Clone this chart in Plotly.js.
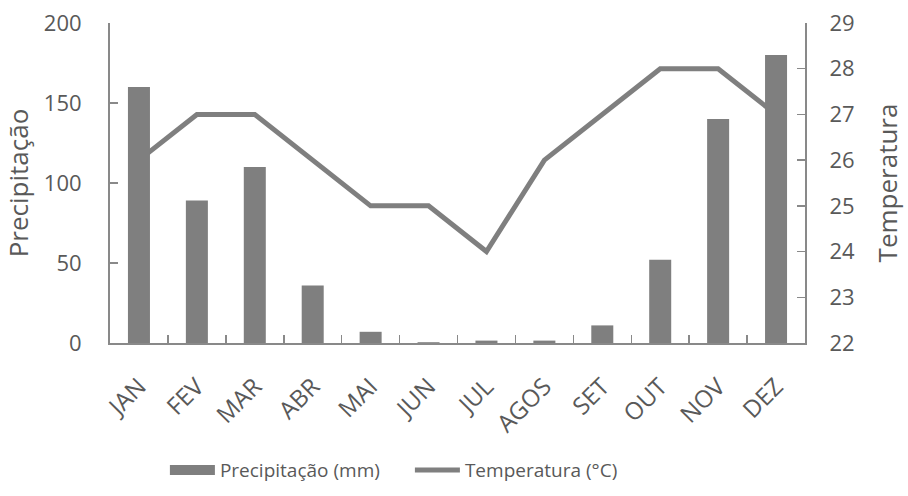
<!DOCTYPE html>
<html>
<head>
<meta charset="utf-8">
<script src="https://cdn.plot.ly/plotly-3.0.1.min.js"></script>
<style>html,body{margin:0;padding:0;background:#fff;}#chart{width:908px;height:496px;}</style>
</head>
<body>
<div id="chart"></div>
<script>
const months = ["JAN","FEV","MAR","ABR","MAI","JUN","JUL","AGOS","SET","OUT","NOV","DEZ"];
const precipitacao = [160, 89, 110, 36, 7, 0.5, 1.5, 1.5, 11, 52, 140, 180];
const temperatura = [26, 27, 27, 26, 25, 25, 24, 26, 27, 28, 28, 27];
const precipTicks = [0, 50, 100, 150, 200];
const tempTicks = [22, 23, 24, 25, 26, 27, 28, 29];

const gray = "#7f7f7f";
const axisColor = "#898989";
const textColor = "#595959";
const fontFam = "'Open Sans', sans-serif";

const data = [
  {
    type: "bar", name: "Precipitação (mm)", x: months, y: precipitacao,
    yaxis: "y2", marker: {color: gray}, showlegend: false
  },
  {
    // legend-only entry giving the wide bar swatch
    type: "scatter", mode: "lines", name: "Precipitação (mm)", x: [null], y: [null],
    yaxis: "y2", line: {color: gray, width: 14}, showlegend: true, hoverinfo: "skip"
  },
  {
    type: "scatter", mode: "lines", name: "Temperatura (°C)", x: months, y: temperatura,
    yaxis: "y", line: {color: gray, width: 5}
  }
];

const layout = {
  width: 908, height: 496,
  margin: {l: 110, r: 103, t: 23, b: 153, autoexpand: false},
  paper_bgcolor: "#fff", plot_bgcolor: "rgba(0,0,0,0)",
  font: {family: fontFam, color: textColor, size: 22},
  bargap: 0.62,
  showlegend: true,
  legend: {
    orientation: "h", x: 0.079, xanchor: "left", y: -0.397, yanchor: "middle",
    font: {size: 19, color: textColor}, traceorder: "normal",
    itemwidth: 45, entrywidth: 185, entrywidthmode: "pixels"
  },
  xaxis: {
    type: "category", tickangle: -45, showline: true, linecolor: axisColor, linewidth: 2,
    ticks: "inside", tickson: "boundaries", ticklen: 8, tickcolor: axisColor, tickwidth: 1.5,
    showgrid: false, zeroline: false, tickfont: {size: 24, color: textColor},
    ticklabelstandoff: 18, automargin: false
  },
  yaxis: {
    side: "right", range: [22, 29], tickvals: tempTicks, showline: true, linecolor: axisColor, linewidth: 2,
    ticks: "inside", ticklen: 8, tickcolor: axisColor, tickwidth: 1.5,
    showgrid: false, zeroline: false, tickfont: {size: 22, color: textColor},
    ticklabelstandoff: 18, automargin: false,
    title: {text: "Temperatura", font: {size: 26, color: textColor}, standoff: 25}
  },
  yaxis2: {
    side: "left", overlaying: "y", range: [0, 200], tickvals: precipTicks, showline: true, linecolor: axisColor, linewidth: 2,
    ticks: "inside", ticklen: 8, tickcolor: axisColor, tickwidth: 1.5,
    showgrid: false, zeroline: false, tickfont: {size: 22, color: textColor},
    ticklabelstandoff: 22, automargin: false,
    title: {text: "Precipitação", font: {size: 26, color: textColor}, standoff: 12}
  }
};

Plotly.newPlot("chart", data, layout, {displayModeBar: false, staticPlot: true});
</script>
</body>
</html>
